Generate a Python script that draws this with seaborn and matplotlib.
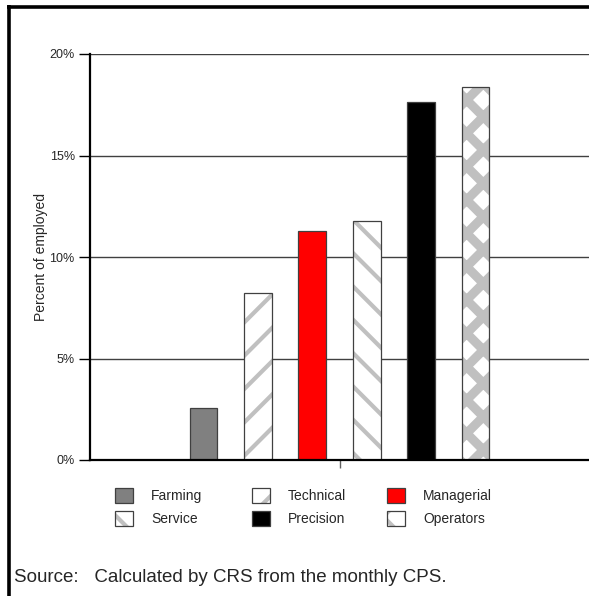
import matplotlib
matplotlib.use("Agg")
import matplotlib.pyplot as plt
import matplotlib.patches as mpatches
from matplotlib.colors import to_rgba
from matplotlib.lines import Line2D
import pandas as pd
import seaborn as sns

# chart data
occupations = ["Farming", "Technical", "Managerial", "Service", "Precision", "Operators"]
percent_employed = [2.55, 8.25, 11.3, 11.75, 17.65, 18.35]
fill_colors = ["#808080", "#ffffff", "#ff0000", "#ffffff", "#000000", "#ffffff"]
hatches = ["", "/", "", "\\", "", "x"]
hatch_widths = [0, 3.0, 0, 3.0, 0, 6.5]
y_ticks = [0, 5, 10, 15, 20]
y_label = "Percent of employed"
source_note = "Source:   Calculated by CRS from the monthly CPS."

HATCH_GRAY = "#c0c0c0"
EDGE_GRAY = "#404040"

sns.set_style("white")
plt.rcParams["font.family"] = ["Liberation Sans", "DejaVu Sans"]
plt.rcParams["hatch.linewidth"] = 3.0
plt.rcParams["hatch.color"] = HATCH_GRAY

W, H = 589, 596
fig = plt.figure(figsize=(W / 100, H / 100), dpi=100)
ax = fig.add_axes([90 / W, 1 - 460 / H, 1 - 90 / W, (460 - 54) / H])

df = pd.DataFrame({"group": [""] * len(occupations),
                   "occupation": occupations,
                   "percent": percent_employed})

sns.barplot(data=df, x="group", y="percent", hue="occupation",
            hue_order=occupations, palette=dict(zip(occupations, fill_colors)),
            width=0.654, gap=0.49, edgecolor=EDGE_GRAY, linewidth=0.9,
            saturation=1, legend=False, ax=ax)


def set_hatch(patch, hatch, lw):
    patch.set_hatch(hatch)
    if hasattr(patch, "set_hatchcolor"):
        patch.set_hatchcolor(HATCH_GRAY)
    else:
        patch._hatch_color = to_rgba(HATCH_GRAY)
    if hasattr(patch, "set_hatch_linewidth"):
        patch.set_hatch_linewidth(lw)
    else:
        patch._hatch_linewidth = lw


for patch, hatch, lw in zip(ax.patches, hatches, hatch_widths):
    if hatch:
        set_hatch(patch, hatch, lw)

ax.set_xlim(-0.5, 0.5)
ax.set_ylim(0, 20)
ax.set_yticks(y_ticks)
ax.set_yticklabels([f"{t}%" for t in y_ticks], fontsize=9)
ax.set_xticks([0])
ax.set_xticklabels([""])
ax.tick_params(axis="y", length=8, width=1, color="black", pad=3, left=True)
ax.tick_params(axis="x", length=6, width=1, color="#606060", bottom=True)
ax.set_xlabel("")
ax.set_ylabel(y_label, fontsize=10, labelpad=1)

ax.set_axisbelow(True)
ax.yaxis.grid(True, color=EDGE_GRAY, linewidth=1)
for side in ["top", "right"]:
    ax.spines[side].set_visible(False)
for side in ["left", "bottom"]:
    ax.spines[side].set_color("black")
    ax.spines[side].set_linewidth(1.6)

# legend: three columns of two entries each, laid out row-wise
handles = [mpatches.Patch(facecolor=c, edgecolor=EDGE_GRAY, linewidth=0.9, label=o)
           for o, c in zip(occupations, fill_colors)]
for h, hatch, lw in zip(handles, hatches, hatch_widths):
    if hatch:
        set_hatch(h, hatch, lw)

col_x = [104, 241, 376]
for i, x in enumerate(col_x):
    fig.legend(handles=[handles[i], handles[i + 3]], loc="upper left",
               bbox_to_anchor=(x / W, 1 - 477 / H), frameon=False, fontsize=10,
               handlelength=1.3, handleheight=1.3, handletextpad=1.3,
               labelspacing=0.55, borderpad=0.3)

fig.text(14 / W, 1 - 578 / H, source_note, fontsize=13.5, va="center", ha="left")

# outer frame
fig.add_artist(Line2D([7 / W, 1], [1 - 6.5 / H, 1 - 6.5 / H], color="black",
                      linewidth=2.6, solid_capstyle="butt", transform=fig.transFigure))
fig.add_artist(Line2D([8.5 / W, 8.5 / W], [1 - 5 / H, 0], color="black",
                      linewidth=2.6, solid_capstyle="butt", transform=fig.transFigure))

fig.savefig("out.png", dpi=100)
